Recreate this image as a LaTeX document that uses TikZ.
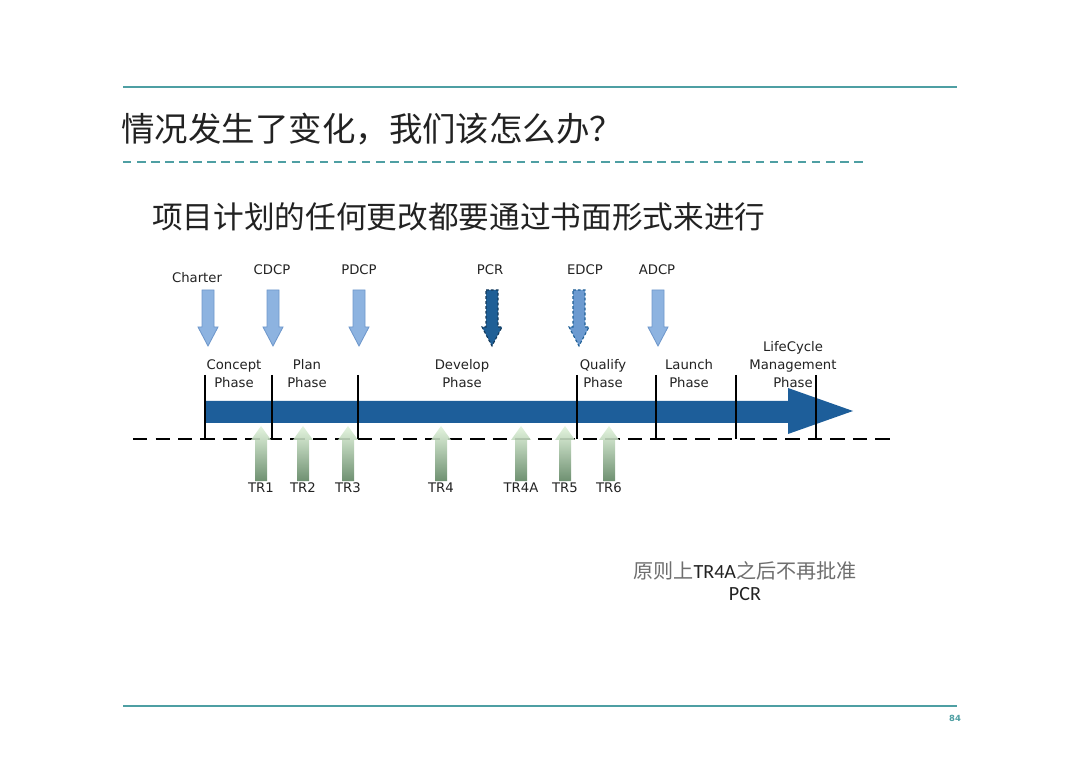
\documentclass[tikz,border=0pt]{standalone}
\usepackage{fontspec}
\usetikzlibrary{positioning}
\setmainfont{DejaVu Sans}
\newfontfamily\cjk{Noto Sans CJK SC}
\newfontfamily\notefont{Carlito}
\definecolor{slideteal}{HTML}{4E9FA3}
\definecolor{phaseblue}{HTML}{1D5E9A}
\definecolor{gateblue}{HTML}{8DB3E0}
\definecolor{gateedge}{HTML}{6F98CC}
\definecolor{pcrblue}{HTML}{1F5F96}
\definecolor{edcpblue}{HTML}{6C9AD0}
\definecolor{trlight}{HTML}{E2F4DC}
\definecolor{trdark}{HTML}{5F8562}
\definecolor{inktext}{HTML}{222222}
\definecolor{notegrey}{HTML}{6E6E6E}
% down gate arrow, centred on x = #2
\newcommand{\gatearrow}[2][]{%
  \path[#1] (#2-6,290) -- (#2+6,290) -- (#2+6,327) -- (#2+10,327)
    -- (#2,346) -- (#2-10,327) -- (#2-6,327) -- cycle;}
% up TR arrow, centred on x = #1
\newcommand{\trarrow}[1]{%
  \path[top color=trlight, bottom color=trdark, opacity=0.9]
    (#1-6,481) -- (#1-6,440) -- (#1-10,440) -- (#1,426)
    -- (#1+10,440) -- (#1+6,440) -- (#1+6,481) -- cycle;}
\tikzset{lab/.style={font=\fontsize{9.4}{12.8}\selectfont, text=inktext,
  align=center, inner sep=0pt}}

\begin{document}
\begin{tikzpicture}[x=0.025cm, y=-0.025cm]
  \useasboundingbox[fill=white] (0,0) rectangle (1080,761);
  % slide frame
  \draw[slideteal, line width=1pt] (123,87) -- (957,87);
  \draw[slideteal, line width=1.2pt, dash pattern=on 6pt off 4pt]
    (123,162) -- (865,162);
  \draw[slideteal, line width=1pt] (123,706) -- (957,706);
  \node[anchor=west, inner sep=0pt, text=inktext,
        font=\cjk\fontsize{23.8}{28}\selectfont] (title) at (121,129)
    {情况发生了变化，我们该怎么办？};
  \node[anchor=west, inner sep=0pt, text=inktext,
        font=\cjk\fontsize{21.8}{26}\selectfont] (subtitle) at (152,217)
    {项目计划的任何更改都要通过书面形式来进行};
  \node[text=slideteal, inner sep=0pt, font=\bfseries\fontsize{6}{7}\selectfont]
    (page) at (955,718) {84};

  % timeline
  \draw[black, line width=2.1pt, dash pattern=on 10pt off 6pt]
    (133,439) -- (890,439);
  \fill[phaseblue] (205,401) -- (788,401) -- (788,388) -- (853,411)
    -- (788,434) -- (788,423) -- (205,423) -- cycle;
  \foreach \x in {205,272,358,577,656,736,816}{%
    \draw[black, line width=2.1pt] (\x,375) -- (\x,439);}

  % phase names
  \foreach \name/\x/\lab in {concept/234/{Concept\\Phase}, plan/307/{Plan\\Phase},
      develop/462/{Develop\\Phase}, qualify/603/{Qualify\\Phase},
      launch/689/{Launch\\Phase}}{%
    \node[lab] (\name) at (\x,374) {\lab};}
  \node[lab] (lifecycle) at (793,365) {LifeCycle\\Management\\Phase};

  % decision checkpoints
  \foreach \x in {208,273,359,658}{%
    \gatearrow[fill=gateblue, draw=gateedge, line width=0.6pt]{\x}}
  \gatearrow[fill=pcrblue, draw=pcrblue!60!black, line width=0.8pt,
    dash pattern=on 2pt off 1.5pt]{492}
  \gatearrow[fill=edcpblue, draw=pcrblue, line width=0.8pt,
    dash pattern=on 2pt off 1.5pt]{579}
  \node[lab] (charter) at (197,278) {Charter};
  \foreach \name/\x in {CDCP/272, PDCP/359, PCR/490, EDCP/585, ADCP/657}{%
    \node[lab] (\name) at (\x,270) {\name};}

  % technical reviews
  \foreach \x/\lab in {261/TR1, 303/TR2, 348/TR3, 441/TR4,
                       521/TR4A, 565/TR5, 609/TR6}{%
    \trarrow{\x}
    \node[lab] (\lab) at (\x,488) {\lab};}

  % note
  \node[anchor=north, align=center, inner sep=0pt, text=inktext,
        font=\fontsize{14.3}{16}\selectfont] (note) at (745,561)
    {{\cjk\color{notegrey}原则上}{\notefont TR4A}{\cjk\color{notegrey}之后不再批准}\\
     {\notefont PCR}};
\end{tikzpicture}
\end{document}
